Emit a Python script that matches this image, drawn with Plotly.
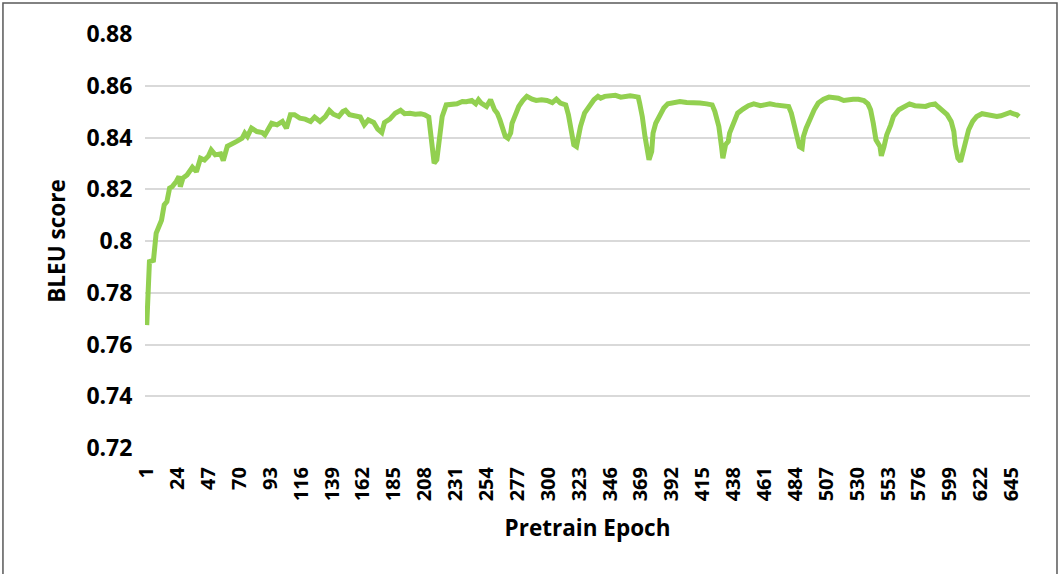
import plotly.graph_objects as go

# Pretrain epoch and BLEU score
epochs = [1, 2, 3, 6, 6.5, 8, 10, 12, 14, 16, 18, 20, 23, 25, 26, 28, 31, 35, 38, 41, 44, 47, 49,
          52, 56, 58, 61, 64, 68, 72, 74, 76, 79, 83, 87, 89, 94, 98, 102, 105, 108,
          111, 115, 119, 123, 126, 130, 134, 137, 140, 144, 147, 149, 152, 156, 160, 163, 166, 170,
          173, 176, 178, 182, 186, 190, 193, 197, 201, 205, 208, 211, 213, 215, 217, 219, 221, 224,
          228, 232, 236, 239, 243, 246, 248, 250, 254, 257, 260, 262, 264, 266, 268, 270, 272, 273,
          275, 278, 281, 284, 288, 291, 295, 299, 303, 306, 309, 313, 315, 317, 319, 321, 322, 324,
          327, 331, 334, 337, 339, 342, 346, 350, 354, 357, 361, 364, 367, 368, 370, 372, 374, 375,
          377, 378, 380, 383, 386, 389, 393, 398, 403, 408, 413, 418, 422, 424, 427, 429, 430, 432,
          434, 435, 438, 441, 445, 449, 453, 458, 461, 465, 469, 473, 476, 479, 481, 483, 485, 487,
          489, 490, 492, 495, 498, 501, 505, 509, 512, 516, 520, 523, 527, 531, 535, 538, 540, 542,
          544, 547, 548, 550, 552, 555, 557, 561, 566, 569, 573, 577, 581, 584, 588, 590, 594, 597,
          600, 602, 603, 605, 607, 609, 611, 613, 616, 619, 623, 627, 630, 634, 637, 640, 644, 646,
          649, 650.5]
bleu = [0.7675, 0.780, 0.792, 0.7925, 0.7965, 0.803, 0.8055, 0.808, 0.814, 0.8152, 0.8204, 0.821, 0.823, 0.825, 0.821,
        0.8243, 0.8255, 0.8285, 0.8268, 0.832, 0.8313, 0.8329, 0.8352, 0.8333, 0.8337, 0.8311, 0.8366,
        0.8372, 0.8385, 0.8397, 0.8417, 0.8404, 0.8436, 0.8423, 0.8419, 0.841, 0.8455, 0.8449, 0.8462,
        0.8436, 0.8488,
        0.8488, 0.8475, 0.8471, 0.8462, 0.8479, 0.8462, 0.8481, 0.8505, 0.849, 0.8481, 0.850, 0.8505,
        0.8488, 0.8481, 0.8479, 0.8449, 0.8468, 0.8458, 0.8432, 0.8419, 0.8458, 0.8471, 0.8494, 0.8505,
        0.8492, 0.8494, 0.849, 0.8492, 0.8488, 0.8479, 0.8404, 0.8301, 0.8314, 0.8391, 0.8481, 0.8526,
        0.8526, 0.853, 0.8539, 0.8538, 0.8543, 0.853, 0.8546, 0.8533, 0.852, 0.8546, 0.8507, 0.8494,
        0.8468, 0.843, 0.8404, 0.8397, 0.8417, 0.8455,
        0.8481, 0.852, 0.8543, 0.8559, 0.8548, 0.8543, 0.8546, 0.8543, 0.8535, 0.8548, 0.8533, 0.8526,
        0.8488, 0.8417, 0.8372, 0.8365, 0.8397, 0.8443,
        0.8494, 0.8526, 0.8546, 0.8559, 0.8552, 0.8559, 0.8559, 0.8563, 0.8556, 0.8559, 0.8561, 0.8559,
        0.8556, 0.8533, 0.8481, 0.8404, 0.8333, 0.8314,
        0.8346, 0.8417, 0.8455, 0.8488, 0.8514, 0.853, 0.8535, 0.8539, 0.8535, 0.8535, 0.8533, 0.853,
        0.8526, 0.8501, 0.8443, 0.8365, 0.832, 0.8372,
        0.8385, 0.8417, 0.8462, 0.8494, 0.851, 0.8523, 0.853, 0.8523, 0.8526, 0.853, 0.8526, 0.8523,
        0.8523, 0.852, 0.8494, 0.8449, 0.8397, 0.8365,
        0.8359, 0.8404, 0.8436, 0.8475, 0.8507, 0.8533, 0.8548, 0.8556, 0.8556, 0.8552, 0.8543, 0.8546,
        0.8548, 0.8548, 0.8543, 0.853, 0.8507, 0.8455,
        0.8391, 0.8365, 0.8329, 0.8365, 0.841, 0.8449, 0.8481, 0.8507, 0.852, 0.853, 0.8523, 0.8523,
        0.852, 0.8526, 0.853, 0.852, 0.8501, 0.8488,
        0.8462, 0.8423, 0.8372, 0.832, 0.8307, 0.8346, 0.8391, 0.843, 0.8462, 0.8481, 0.8492, 0.8488,
        0.8488, 0.8481, 0.8484, 0.8488, 0.8497, 0.8492,
        0.8488, 0.8481]

x_ticks = [1, 24, 47, 70, 93, 116, 139, 162, 185, 208, 231, 254, 277, 300, 323, 346, 369, 392,
           415, 438, 461, 484, 507, 530, 553, 576, 599, 622, 645]
y_ticks = [0.72, 0.74, 0.76, 0.78, 0.80, 0.82, 0.84, 0.86, 0.88]
y_tick_text = ["0.72", "0.74", "0.76", "0.78", "0.8", "0.82", "0.84", "0.86", "0.88"]

fig = go.Figure()
fig.add_trace(go.Scatter(x=epochs, y=bleu, mode="lines",
                         line=dict(color="#92D050", width=5), showlegend=False))

font_family = "Open Sans"
fig.update_layout(
    width=1061, height=574,
    margin=dict(l=145, r=31, t=34, b=126),
    paper_bgcolor="white", plot_bgcolor="white",
    font=dict(family=font_family, color="black"),
    xaxis=dict(
        range=[-0.3, 658.7], tickmode="array", tickvals=x_ticks,
        ticktext=[str(t) for t in x_ticks], tickangle=-90,
        tickfont=dict(size=20, weight=700, family=font_family),
        ticks="outside", ticklen=10, tickcolor="rgba(0,0,0,0)",
        showgrid=False, zeroline=False, showline=False,
        title=dict(text="Pretrain Epoch", font=dict(size=22.5, weight=700, family=font_family), standoff=19),
        automargin=False,
    ),
    yaxis=dict(
        range=[0.72, 0.88], tickmode="array", tickvals=y_ticks, ticktext=y_tick_text,
        tickfont=dict(size=23, weight=700, family=font_family),
        ticks="outside", ticklen=7, tickcolor="rgba(0,0,0,0)",
        showgrid=True, gridcolor="#D9D9D9", gridwidth=1.5,
        zeroline=False, showline=False,
        title=dict(text="BLEU score", font=dict(size=22.5, weight=700, family=font_family), standoff=14),
        automargin=False,
    ),
    shapes=[dict(type="rect", xref="paper", yref="paper",
                 x0=-0.1605, x1=1.0305, y0=-0.31, y1=1.075,
                 line=dict(color="#595959", width=1.5), fillcolor="rgba(0,0,0,0)", layer="below")],
)

fig.write_html("out.html", config={"displayModeBar": False},
               post_script="document.body.style.margin='0';")
